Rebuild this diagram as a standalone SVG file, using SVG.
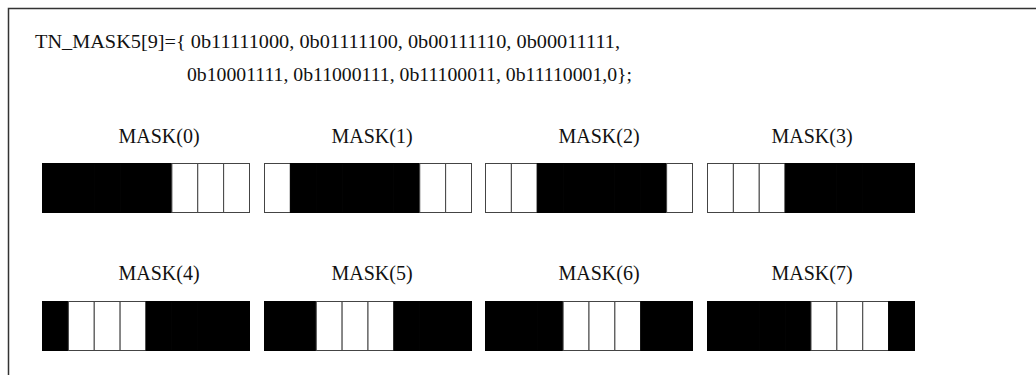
<svg xmlns="http://www.w3.org/2000/svg" width="1036" height="375" viewBox="0 0 1036 375">
<style>
text{font-family:"Liberation Serif","Times New Roman",serif;fill:#111}
.code{font-size:19px}
.lbl{font-size:20px;text-anchor:middle}
rect.b{fill:#000;stroke:#000;stroke-width:1}
rect.w{fill:#fff;stroke:#444;stroke-width:1}
.frame{stroke:#333;stroke-width:1.5;fill:none}
</style>
<rect width="1036" height="375" fill="#fff"/>
<g id="frame">
<path class="frame" d="M8.5,375 V8.5 H1036"/>
</g>
<g id="code">
<text class="code" x="35" y="48" textLength="585" lengthAdjust="spacingAndGlyphs">TN_MASK5[9]={ 0b11111000, 0b01111100, 0b00111110, 0b00011111,</text>
<text class="code" x="187" y="81" textLength="445" lengthAdjust="spacingAndGlyphs">0b10001111, 0b11000111, 0b11100011, 0b11110001,0};</text>
</g>
<g id="mask0">
<text class="lbl" x="159" y="142.5">MASK(0)</text>
<rect class="b" x="42.5" y="163.5" width="25.875" height="49"/><rect class="b" x="68.375" y="163.5" width="25.875" height="49"/><rect class="b" x="94.25" y="163.5" width="25.875" height="49"/><rect class="b" x="120.125" y="163.5" width="25.875" height="49"/><rect class="b" x="146" y="163.5" width="25.875" height="49"/><rect class="w" x="171.875" y="163.5" width="25.875" height="49"/><rect class="w" x="197.75" y="163.5" width="25.875" height="49"/><rect class="w" x="223.625" y="163.5" width="25.875" height="49"/>
</g>
<g id="mask1">
<text class="lbl" x="372" y="142.5">MASK(1)</text>
<rect class="w" x="264.5" y="163.5" width="25.875" height="49"/><rect class="b" x="290.375" y="163.5" width="25.875" height="49"/><rect class="b" x="316.25" y="163.5" width="25.875" height="49"/><rect class="b" x="342.125" y="163.5" width="25.875" height="49"/><rect class="b" x="368" y="163.5" width="25.875" height="49"/><rect class="b" x="393.875" y="163.5" width="25.875" height="49"/><rect class="w" x="419.75" y="163.5" width="25.875" height="49"/><rect class="w" x="445.625" y="163.5" width="25.875" height="49"/>
</g>
<g id="mask2">
<text class="lbl" x="599" y="142.5">MASK(2)</text>
<rect class="w" x="485.5" y="163.5" width="25.875" height="49"/><rect class="w" x="511.375" y="163.5" width="25.875" height="49"/><rect class="b" x="537.25" y="163.5" width="25.875" height="49"/><rect class="b" x="563.125" y="163.5" width="25.875" height="49"/><rect class="b" x="589" y="163.5" width="25.875" height="49"/><rect class="b" x="614.875" y="163.5" width="25.875" height="49"/><rect class="b" x="640.75" y="163.5" width="25.875" height="49"/><rect class="w" x="666.625" y="163.5" width="25.875" height="49"/>
</g>
<g id="mask3">
<text class="lbl" x="812" y="142.5">MASK(3)</text>
<rect class="w" x="707.5" y="163.5" width="25.875" height="49"/><rect class="w" x="733.375" y="163.5" width="25.875" height="49"/><rect class="w" x="759.25" y="163.5" width="25.875" height="49"/><rect class="b" x="785.125" y="163.5" width="25.875" height="49"/><rect class="b" x="811" y="163.5" width="25.875" height="49"/><rect class="b" x="836.875" y="163.5" width="25.875" height="49"/><rect class="b" x="862.75" y="163.5" width="25.875" height="49"/><rect class="b" x="888.625" y="163.5" width="25.875" height="49"/>
</g>
<g id="mask4">
<text class="lbl" x="159" y="280">MASK(4)</text>
<rect class="b" x="42.5" y="301.5" width="25.875" height="49"/><rect class="w" x="68.375" y="301.5" width="25.875" height="49"/><rect class="w" x="94.25" y="301.5" width="25.875" height="49"/><rect class="w" x="120.125" y="301.5" width="25.875" height="49"/><rect class="b" x="146" y="301.5" width="25.875" height="49"/><rect class="b" x="171.875" y="301.5" width="25.875" height="49"/><rect class="b" x="197.75" y="301.5" width="25.875" height="49"/><rect class="b" x="223.625" y="301.5" width="25.875" height="49"/>
</g>
<g id="mask5">
<text class="lbl" x="372" y="280">MASK(5)</text>
<rect class="b" x="264.5" y="301.5" width="25.875" height="49"/><rect class="b" x="290.375" y="301.5" width="25.875" height="49"/><rect class="w" x="316.25" y="301.5" width="25.875" height="49"/><rect class="w" x="342.125" y="301.5" width="25.875" height="49"/><rect class="w" x="368" y="301.5" width="25.875" height="49"/><rect class="b" x="393.875" y="301.5" width="25.875" height="49"/><rect class="b" x="419.75" y="301.5" width="25.875" height="49"/><rect class="b" x="445.625" y="301.5" width="25.875" height="49"/>
</g>
<g id="mask6">
<text class="lbl" x="599" y="280">MASK(6)</text>
<rect class="b" x="485.5" y="301.5" width="25.875" height="49"/><rect class="b" x="511.375" y="301.5" width="25.875" height="49"/><rect class="b" x="537.25" y="301.5" width="25.875" height="49"/><rect class="w" x="563.125" y="301.5" width="25.875" height="49"/><rect class="w" x="589" y="301.5" width="25.875" height="49"/><rect class="w" x="614.875" y="301.5" width="25.875" height="49"/><rect class="b" x="640.75" y="301.5" width="25.875" height="49"/><rect class="b" x="666.625" y="301.5" width="25.875" height="49"/>
</g>
<g id="mask7">
<text class="lbl" x="812" y="280">MASK(7)</text>
<rect class="b" x="707.5" y="301.5" width="25.875" height="49"/><rect class="b" x="733.375" y="301.5" width="25.875" height="49"/><rect class="b" x="759.25" y="301.5" width="25.875" height="49"/><rect class="b" x="785.125" y="301.5" width="25.875" height="49"/><rect class="w" x="811" y="301.5" width="25.875" height="49"/><rect class="w" x="836.875" y="301.5" width="25.875" height="49"/><rect class="w" x="862.75" y="301.5" width="25.875" height="49"/><rect class="b" x="888.625" y="301.5" width="25.875" height="49"/>
</g>
</svg>
